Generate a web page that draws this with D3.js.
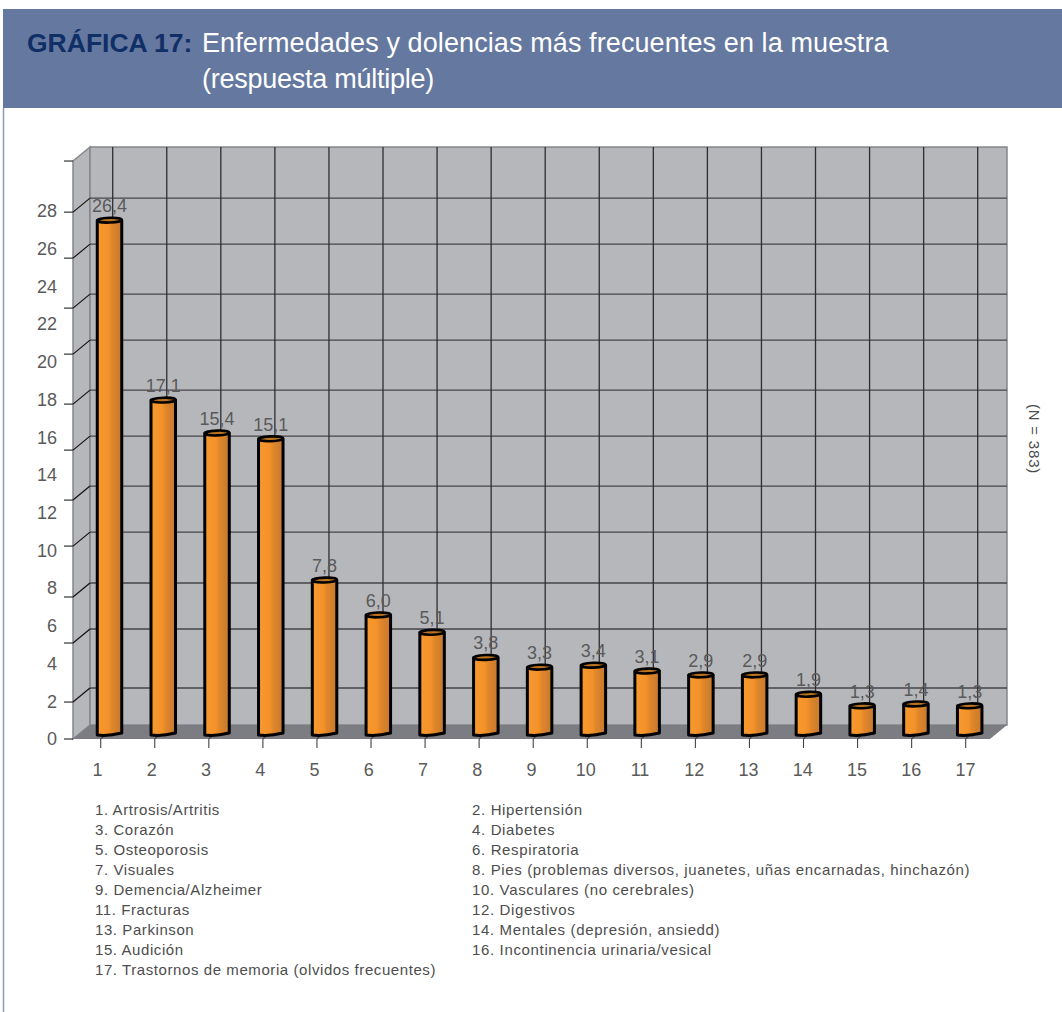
<!DOCTYPE html>
<html>
<head>
<meta charset="utf-8">
<script src="https://cdnjs.cloudflare.com/ajax/libs/d3/7.8.5/d3.min.js"></script>
<style>
  html, body { margin: 0; padding: 0; background: #fff; }
  svg { display: block; }
  text { font-family: "Liberation Sans", sans-serif; }
  .axis path, .axis line { display: none; }
  .axis text { font-size: 18px; fill: #5a5a5a; font-family: "Liberation Sans", sans-serif; }
</style>
</head>
<body>
<svg id="chart"></svg>
<script>
var categories = ["Artrosis/Artritis", "Hipertensión", "Corazón", "Diabetes", "Osteoporosis",
  "Respiratoria", "Visuales", "Pies (problemas diversos, juanetes, uñas encarnadas, hinchazón)",
  "Demencia/Alzheimer", "Vasculares (no cerebrales)", "Fracturas", "Digestivos", "Parkinson",
  "Mentales (depresión, ansiedd)", "Audición", "Incontinencia urinaria/vesical",
  "Trastornos de memoria (olvidos frecuentes)"];
var values = [26.4, 17.1, 15.4, 15.1, 7.8, 6.0, 5.1, 3.8, 3.3, 3.4, 3.1, 2.9, 2.9, 1.9, 1.3, 1.4, 1.3];
var numbers = d3.range(1, 18);
var yTickLabels = d3.range(0, 30, 2);
// the grid of the original is not aligned with its labels, levels read on the label scale
var gridLevels = [0, 1.96, 5.09, 7.53, 10.23, 12.67, 15.32, 17.76, 20.41, 22.85, 25.5, 27.94, 30.65];

var width = 1062, height = 1012;
var depthX = 17, depthY = -14;
var plotLeft = 73, plotRight = 990, plotBase = 739;
var barWidth = 24.5;

var svg = d3.select("#chart").attr("width", width).attr("height", height);

var yLabel = d3.scaleLinear().domain([0, 28]).range([plotBase, 211]);
var yBar = d3.scaleLinear().domain([0, 28]).range([731, 189.2]);
var xBar = d3.scaleLinear().domain([1, 17]).range([109.5, 969.7]);
var xTick = d3.scaleLinear().domain([1, 17]).range([100.7, 965.7]);
var xLabel = d3.scaleLinear().domain([1, 17]).range([97, 965]);

var defs = svg.append("defs");
var grad = defs.append("linearGradient").attr("id", "barFill");
grad.append("stop").attr("offset", "0%").attr("stop-color", "#f79a2e");
grad.append("stop").attr("offset", "45%").attr("stop-color", "#f3922a");
grad.append("stop").attr("offset", "60%").attr("stop-color", "#e0862a");
grad.append("stop").attr("offset", "100%").attr("stop-color", "#c4792f");

// header
svg.append("rect").attr("x", 3).attr("y", 9).attr("width", width - 3).attr("height", 99).attr("fill", "#65789f");
svg.append("line").attr("x1", 3.5).attr("x2", 3.5).attr("y1", 108).attr("y2", height)
  .attr("stroke", "#8d99b9").attr("stroke-width", 1.5);
svg.append("text").attr("x", 27).attr("y", 52).attr("font-size", 26.5).attr("font-weight", "bold")
  .attr("fill", "#0f2f66").text("GRÁFICA 17:");
svg.append("text").attr("x", 202).attr("y", 52).attr("font-size", 27).attr("fill", "#fff")
  .style("letter-spacing", "0.1px")
  .text("Enfermedades y dolencias más frecuentes en la muestra");
svg.append("text").attr("x", 202).attr("y", 88).attr("font-size", 27).attr("fill", "#fff")
  .style("letter-spacing", "-0.25px")
  .text("(respuesta múltiple)");

// walls and floor
var topY = yLabel(gridLevels[gridLevels.length - 1]);
svg.append("polygon")
  .attr("points", [[plotLeft, plotBase], [plotLeft, topY], [plotLeft + depthX, topY + depthY], [plotLeft + depthX, plotBase + depthY]].join(" "))
  .attr("fill", "#b6b7bb").attr("stroke", "#85868a").attr("stroke-width", 1.5);
svg.append("rect").attr("x", plotLeft + depthX).attr("y", topY + depthY)
  .attr("width", plotRight - plotLeft).attr("height", plotBase - topY)
  .attr("fill", "#b6b7bb").attr("stroke", "#85868a").attr("stroke-width", 1.5);
svg.append("polygon")
  .attr("points", [[plotLeft, plotBase], [plotLeft + depthX, plotBase + depthY], [plotRight + depthX, plotBase + depthY], [plotRight, plotBase]].join(" "))
  .attr("fill", "#7c7d82");

// horizontal grid
gridLevels.slice(1, -1).forEach(function(d) {
  svg.append("line")
    .attr("x1", plotLeft + depthX).attr("x2", plotRight + depthX)
    .attr("y1", yLabel(d) + depthY).attr("y2", yLabel(d) + depthY)
    .attr("stroke", "#46464a").attr("stroke-width", 1.4);
});
// vertical grid
numbers.forEach(function(d) {
  svg.append("line")
    .attr("x1", xTick(d) + 12).attr("x2", xTick(d) + 12)
    .attr("y1", topY + depthY).attr("y2", plotBase + depthY)
    .attr("stroke", "#2e2e32").attr("stroke-width", 1.3);
});

// left ticks, front stub plus diagonal on the side wall
gridLevels.forEach(function(d, i) {
  var y = yLabel(d);
  svg.append("line").attr("x1", plotLeft - 9).attr("x2", plotLeft).attr("y1", y).attr("y2", y)
    .attr("stroke", "#333").attr("stroke-width", 1.2);
  if (i > 0 && i < gridLevels.length - 1) {
    svg.append("line").attr("x1", plotLeft).attr("x2", plotLeft + depthX)
      .attr("y1", y).attr("y2", y + depthY).attr("stroke", "#111").attr("stroke-width", 1.2);
  }
});

// bottom ticks
numbers.forEach(function(d) {
  svg.append("path")
    .attr("d", "M" + (xTick(d) + 4) + "," + (plotBase - 4) + "L" + xTick(d) + "," + plotBase + "V" + (plotBase + 9))
    .attr("fill", "none").attr("stroke", "#444").attr("stroke-width", 1.1);
});

// bars
var bars = svg.selectAll("g.bar").data(values).enter().append("g").attr("class", "bar");
bars.append("path")
  .attr("d", function(d, i) {
    var x = xBar(i + 1), l = x - barWidth / 2, r = x + barWidth / 2, t = yBar(d);
    return "M" + l + "," + t + "V" + (yBar(0) + 4) +
      "Q" + (x - 2) + "," + (yBar(0) + 5.5) + " " + r + "," + (yBar(0) + 2) +
      "V" + t + "Z";
  })
  .attr("fill", "url(#barFill)").attr("stroke", "#000").attr("stroke-width", 3).attr("stroke-linejoin", "round");
bars.append("ellipse")
  .attr("cx", function(d, i) { return xBar(i + 1); })
  .attr("cy", function(d) { return yBar(d); })
  .attr("rx", barWidth / 2).attr("ry", 2.4)
  .attr("transform", function(d, i) { return "rotate(-2 " + xBar(i + 1) + " " + yBar(d) + ")"; })
  .attr("fill", "#b9721f").attr("stroke", "#000").attr("stroke-width", 2.6);

// value labels
svg.selectAll("text.val").data(values).enter().append("text")
  .attr("class", "val")
  .attr("x", function(d, i) { return xBar(i + 1); })
  .attr("y", function(d) { return yBar(d) - 8; })
  .attr("text-anchor", "middle").attr("font-size", 18).attr("fill", "#5a5a5a")
  .text(function(d) { return d.toFixed(1).replace(".", ","); });

// axes labels
svg.append("g").attr("class", "axis").attr("transform", "translate(57,0)")
  .call(d3.axisLeft(yLabel).tickValues(yTickLabels).tickSize(0).tickPadding(0).tickFormat(d3.format("d")));
svg.append("g").attr("class", "axis").attr("transform", "translate(0,763)")
  .call(d3.axisBottom(xLabel).tickValues(numbers).tickSize(0).tickPadding(0).tickFormat(d3.format("d")));

// legend, odd numbers left, even numbers right
var rowY = d3.scaleLinear().domain([0, 8]).range([815, 975]);
svg.selectAll("text.leg").data(categories).enter().append("text")
  .attr("class", "leg")
  .attr("x", function(d, i) { return i % 2 === 0 ? 95 : 472; })
  .attr("y", function(d, i) { return rowY(Math.floor(i / 2)); })
  .attr("font-size", 15).attr("fill", "#4d4d4d")
  .style("letter-spacing", function(d, i) { return i % 2 === 0 ? "0.58px" : "0.65px"; })
  .text(function(d, i) { return (i + 1) + ". " + d; });

svg.append("text")
  .attr("transform", "translate(1029,439) rotate(90)")
  .attr("text-anchor", "middle").attr("font-size", 15).attr("fill", "#4d4d4d")
  .style("letter-spacing", "0.8px")
  .text("(N = 383)");
</script>
</body>
</html>
